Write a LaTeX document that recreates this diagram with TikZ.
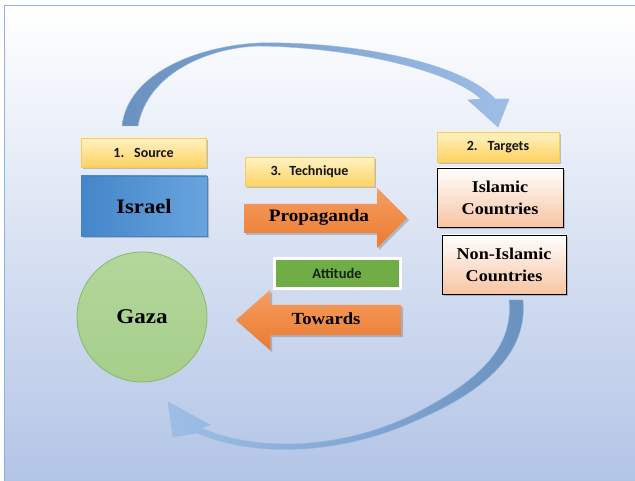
\documentclass[tikz,border=0pt]{standalone}
\usepackage{fontspec}
\setmainfont{Liberation Serif}[FakeStretch=1.1]
\newfontfamily\calfont{Carlito}
\usetikzlibrary{shadows}
\definecolor{bgtop}{RGB}{255,255,255}
\definecolor{bgbot}{RGB}{178,196,230}
\definecolor{framec}{RGB}{141,179,226}
\definecolor{ylight}{RGB}{255,242,196}
\definecolor{ydark}{RGB}{253,210,96}
\definecolor{yline}{RGB}{248,204,92}
\definecolor{bluel}{RGB}{68,134,202}
\definecolor{bluer}{RGB}{104,164,222}
\definecolor{blueline}{RGB}{78,128,188}
\definecolor{peach}{RGB}{248,196,162}
\definecolor{gazaf}{RGB}{166,207,138}
\definecolor{gazal}{RGB}{132,185,104}
\definecolor{attg}{RGB}{112,173,71}
\definecolor{orl}{RGB}{245,158,98}
\definecolor{ord}{RGB}{236,122,46}
\definecolor{arrdark}{RGB}{106,146,190}
\definecolor{arrlight}{RGB}{158,190,230}
\definecolor{arredge}{RGB}{150,185,228}
\definecolor{txtdark}{RGB}{20,20,20}
\definecolor{txtgreen}{RGB}{20,35,15}
\begin{document}
\begin{tikzpicture}[x=1pt,y=-1pt,
  sh/.style={drop shadow={shadow xshift=2pt,shadow yshift=-2pt,opacity=.35,fill=black!60}},
  lbl/.style={sh,draw=yline,top color=ylight,bottom color=ydark,
    font=\calfont\bfseries\fontsize{14}{16}\selectfont,text=txtdark,inner sep=0pt},
  bigtxt/.style={font=\bfseries\fontsize{16.5}{22}\selectfont,align=center},
  cbox/.style={sh,draw=black,line width=.8pt,top color=white,bottom color=peach,inner sep=0pt,
    bigtxt},
  curv/.style={draw=arredge,line width=.4pt}
]
\useasboundingbox (0,0) rectangle (635,481);
% background
\fill[white] (0,0) rectangle (635,481);
\shade[top color=bgtop,bottom color=bgbot,draw=framec,line width=1pt] (4,6) rectangle (637,483);

% top curved arrow
\path[curv,left color=arrdark,right color=arrlight]
  (122,126) .. controls (128,72) and (200,46) .. (258,43)
  .. controls (350,41) and (462,62) .. (495,99)
  -- (509,99) -- (498,127) -- (468,100) -- (481,99)
  .. controls (450,70) and (350,47) .. (258,46)
  .. controls (205,48) and (147,75) .. (138,126) -- cycle;

% bottom curved arrow
\path[curv,left color=arrlight,right color=arrdark]
  (523,300) .. controls (528,352) and (486,390) .. (422,418)
  .. controls (340,457) and (252,457) .. (197,433)
  -- (173,437) -- (168,402) -- (210,425) -- (201,428)
  .. controls (252,451) and (340,452) .. (418,412)
  .. controls (475,382) and (514,350) .. (509,300) -- cycle;

% left column
\node[lbl,minimum width=125pt,minimum height=29pt] (src) at (143.5,152.5) {1.\hspace{10pt}Source};
\node[sh,draw=blueline,left color=bluel,right color=bluer,minimum width=126pt,minimum height=60pt,
  inner sep=0pt,font=\bfseries\fontsize{20.5}{24}\selectfont] (isr) at (144,206) {Israel};
\node[circle,draw=gazal,line width=.8pt,top color=gazaf!85!white,bottom color=gazaf,minimum size=130pt,
  inner sep=0pt,font=\bfseries\fontsize{21}{24}\selectfont] (gaza) at (142,317) {Gaza};

% middle
\node[lbl,minimum width=129pt,minimum height=29pt] (tech) at (309.5,172) {3.\hspace{8pt}Technique};
\path[sh,top color=orl,bottom color=ord]
  (244,204) -- (377,204) -- (377,188) -- (407,218) -- (377,248) -- (377,233) -- (244,233) -- cycle;
\node[font=\bfseries\fontsize{17.5}{20}\selectfont] (prop) at (319,217) {Propaganda};

\node[sh,fill=attg,draw=white,line width=3pt,minimum width=126pt,minimum height=30pt,inner sep=0pt,
  font=\calfont\bfseries\fontsize{14.5}{16}\selectfont,text=txtgreen] (att) at (337,273.5) {Attitude};
\path[sh,top color=orl,bottom color=ord]
  (401,305) -- (270,305) -- (270,290) -- (236,320) -- (270,350) -- (270,335) -- (401,335) -- cycle;
\node[font=\bfseries\fontsize{17}{20}\selectfont] (tow) at (326,319) {Towards};

% right column
\node[lbl,minimum width=122pt,minimum height=30pt] (tgt) at (498,147) {2.\hspace{10pt}Targets};
\node[cbox,minimum width=126pt,minimum height=59pt] (isl) at (500,197.5) {Islamic\\Countries};
\node[cbox,minimum width=124pt,minimum height=59pt] (non) at (504,264.5) {Non-Islamic\\Countries};
\end{tikzpicture}
\end{document}
